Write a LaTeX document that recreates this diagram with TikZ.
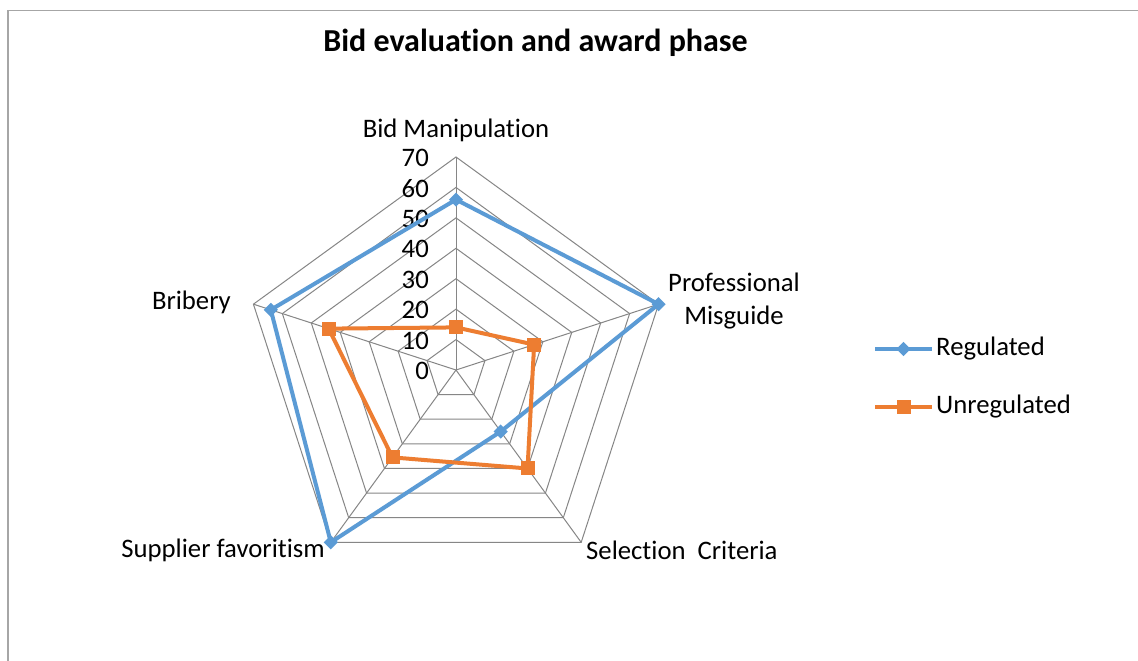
\documentclass[tikz,border=0pt]{standalone}
\usepackage{fontspec}
\setmainfont{Carlito}[Ligatures=NoCommon]
\usetikzlibrary{calc}
\definecolor{regblue}{HTML}{5B9BD5}
\definecolor{unregorange}{HTML}{ED7D31}
\definecolor{gridgray}{HTML}{868686}
\definecolor{framegray}{HTML}{A6A6A6}
\begin{document}
\begin{tikzpicture}[x=1pt,y=1pt,
  gridline/.style={draw=gridgray, line width=1pt},
  regline/.style={draw=regblue, line width=4pt, line join=round},
  unregline/.style={draw=unregorange, line width=4pt, line join=round},
  regmark/.style={rectangle, rotate=45, fill=regblue, minimum size=10pt, inner sep=0pt},
  unregmark/.style={rectangle, fill=unregorange, minimum size=14pt, inner sep=0pt},
  lab/.style={font=\fontsize{26.7}{33}\selectfont, inner sep=0pt},
  titlelab/.style={font=\bfseries\fontsize{32}{38}\selectfont, inner sep=0pt}]
\useasboundingbox (0,0) rectangle (1138,-661);
\fill[white] (0,0) rectangle (1138,-661);
\draw[framegray, line width=1.5pt] (8,-661) -- (8,-10.5) -- (1138,-10.5);

\node[titlelab] (title) at (535.5,-43) {Bid evaluation and award phase};

\def\u{3.0429}
\begin{scope}[shift={(456,-370)}]
  \coordinate (c) at (0,0);
  \foreach \v in {10,20,...,70}
    \draw[gridline] (90:\v*\u) -- (18:\v*\u) -- (-54:\v*\u) -- (-126:\v*\u) -- (162:\v*\u) -- cycle;
  \foreach \a/\n in {90/a1,18/a2,-54/a3,-126/a4,162/a5} {
    \coordinate (\n) at (\a:70*\u);
    \draw[gridline] (c) -- (\n);
  }
  \foreach \v in {0,10,...,70}
    \node[lab, anchor=east] (t\v) at (-27,\v*\u-1) {\v};

  % Regulated
  \coordinate (r1) at (90:56*\u);
  \coordinate (r2) at (18:70*\u);
  \coordinate (r3) at (-54:25*\u);
  \coordinate (r4) at (-126:70*\u);
  \coordinate (r5) at (162:64*\u);
  % Unregulated
  \coordinate (u1) at (90:14*\u);
  \coordinate (u2) at (18:27*\u);
  \coordinate (u3) at (-54:40*\u);
  \coordinate (u4) at (-126:35.5*\u);
  \coordinate (u5) at (162:44*\u);
\end{scope}

\draw[regline] (r1) -- (r2) -- (r3) -- (r4) -- (r5) -- cycle;
\draw[unregline] (u1) -- (u2) -- (u3) -- (u4) -- (u5) -- cycle;
\foreach \n in {r1,r2,r3,r4,r5} \node[regmark] (m\n) at (\n) {};
\foreach \n in {u1,u2,u3,u4,u5} \node[unregmark] (m\n) at (\n) {};

% category labels
\node[lab] (cat1) at (456,-130) {Bid Manipulation};
\node[lab, align=center] (cat2) at (734,-301) {Professional\\Misguide};
\node[lab, anchor=west] (cat3) at (586,-550) {Selection\ \ Criteria};
\node[lab, anchor=east] (cat4) at (325,-550) {Supplier favoritism};
\node[lab, anchor=east] (cat5) at (231,-302) {Bribery};

% legend
\coordinate (l1a) at (875,-349);
\coordinate (l1b) at (932,-349);
\coordinate (l2a) at (875,-407);
\coordinate (l2b) at (932,-407);
\draw[regline] (l1a) -- (l1b);
\draw[unregline] (l2a) -- (l2b);
\node[regmark] (lm1) at ($(l1a)!0.5!(l1b)$) {};
\node[unregmark] (lm2) at ($(l2a)!0.5!(l2b)$) {};
\node[lab, anchor=west] (leg1) at (936,-349) {Regulated};
\node[lab, anchor=west] (leg2) at (936,-407) {Unregulated};
\end{tikzpicture}
\end{document}
